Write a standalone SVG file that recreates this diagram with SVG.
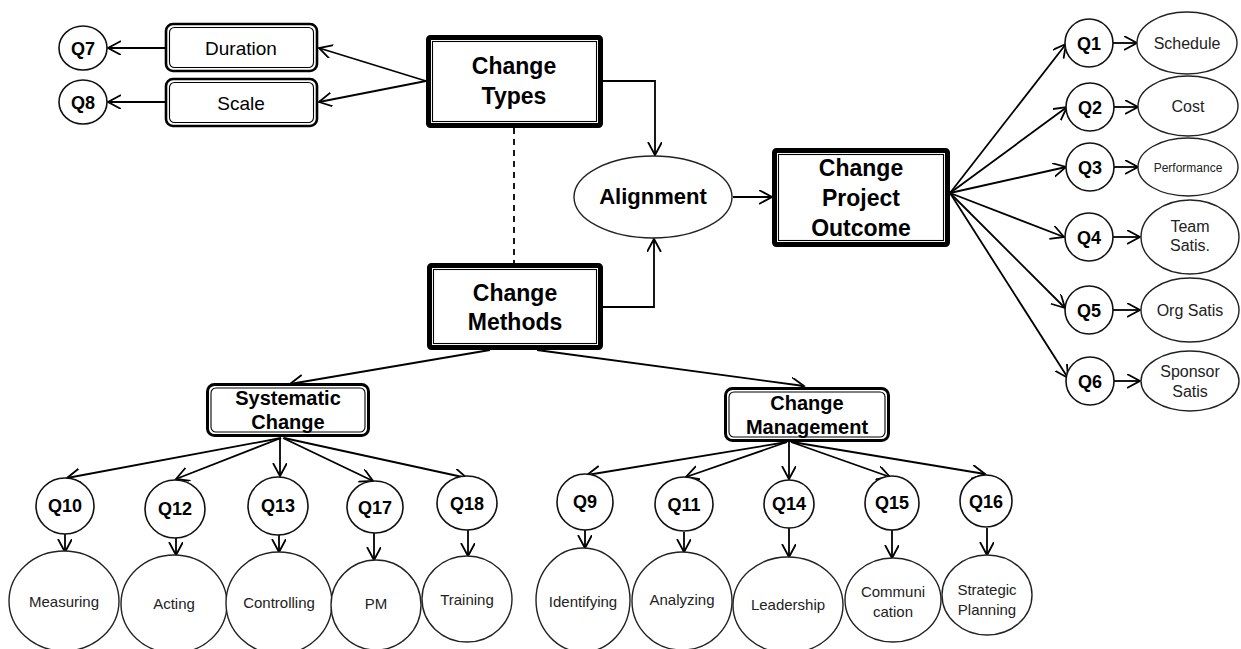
<svg xmlns="http://www.w3.org/2000/svg" width="1241" height="649" viewBox="0 0 1241 649">
<defs>
<marker id="arr" markerUnits="userSpaceOnUse" markerWidth="16" markerHeight="16" refX="13" refY="7" orient="auto">
<path d="M0,0 L13,7 L0,14" fill="none" stroke="#000" stroke-width="1.8"/>
</marker>
<style>
text{font-family:"Liberation Sans",Arial,sans-serif;fill:#000;text-anchor:middle}
.big{font-size:23px;font-weight:bold}
.mid{font-size:20px;font-weight:bold}
.q{font-size:18px;font-weight:bold}
.lbl{font-size:15px;fill:#222}
.rl{font-size:16px;fill:#222}
.ell{fill:#fff;stroke:#222;stroke-width:1.4}
.qc{fill:#fff;stroke:#111;stroke-width:1.6}
.o5{fill:#fff;stroke:#000;stroke-width:5}
.o3{fill:#fff;stroke:#000;stroke-width:3}
.in{fill:none;stroke:#000;stroke-width:1.1}
.ln{fill:none;stroke:#000;stroke-width:1.8}
</style>
</defs>

<g id="connectors">
<line class="ln" x1="426" y1="81" x2="319" y2="48" marker-end="url(#arr)"/>
<line class="ln" x1="426" y1="81" x2="319" y2="102" marker-end="url(#arr)"/>
<line class="ln" x1="165" y1="48" x2="108" y2="48" marker-end="url(#arr)"/>
<line class="ln" x1="165" y1="102" x2="108" y2="102" marker-end="url(#arr)"/>
<polyline class="ln" points="603,81 655,81 655,155" marker-end="url(#arr)"/>
<polyline class="ln" points="603,307 654,307 654,239" marker-end="url(#arr)"/>
<line x1="514" y1="128" x2="514" y2="263" stroke="#000" stroke-width="1.8" stroke-dasharray="6,5"/>
<line class="ln" x1="733" y1="197" x2="772" y2="197" marker-end="url(#arr)"/>
<line class="ln" x1="950" y1="193" x2="1066" y2="44" marker-end="url(#arr)"/>
<line class="ln" x1="950" y1="193" x2="1067" y2="107" marker-end="url(#arr)"/>
<line class="ln" x1="950" y1="193" x2="1066" y2="167" marker-end="url(#arr)"/>
<line class="ln" x1="950" y1="193" x2="1064" y2="237" marker-end="url(#arr)"/>
<line class="ln" x1="950" y1="193" x2="1065" y2="308" marker-end="url(#arr)"/>
<line class="ln" x1="950" y1="193" x2="1068" y2="378" marker-end="url(#arr)"/>
<line class="ln" x1="1113" y1="43" x2="1137" y2="43" marker-end="url(#arr)"/>
<line class="ln" x1="1114" y1="107" x2="1138" y2="107" marker-end="url(#arr)"/>
<line class="ln" x1="1114" y1="167" x2="1138" y2="167" marker-end="url(#arr)"/>
<line class="ln" x1="1113" y1="237" x2="1140" y2="237" marker-end="url(#arr)"/>
<line class="ln" x1="1113" y1="310" x2="1140" y2="310" marker-end="url(#arr)"/>
<line class="ln" x1="1114" y1="381" x2="1140" y2="381" marker-end="url(#arr)"/>
<line class="ln" x1="490" y1="350" x2="290" y2="384" marker-end="url(#arr)"/>
<line class="ln" x1="537" y1="350" x2="804" y2="386" marker-end="url(#arr)"/>
<line class="ln" x1="281" y1="438" x2="67" y2="478" marker-end="url(#arr)"/>
<line class="ln" x1="281" y1="438" x2="176" y2="479" marker-end="url(#arr)"/>
<line class="ln" x1="280" y1="438" x2="280" y2="476" marker-end="url(#arr)"/>
<line class="ln" x1="283" y1="438" x2="373" y2="481" marker-end="url(#arr)"/>
<line class="ln" x1="284" y1="438" x2="467" y2="478" marker-end="url(#arr)"/>
<line class="ln" x1="787" y1="442" x2="587" y2="475" marker-end="url(#arr)"/>
<line class="ln" x1="787" y1="442" x2="686" y2="477" marker-end="url(#arr)"/>
<line class="ln" x1="789" y1="442" x2="789" y2="479" marker-end="url(#arr)"/>
<line class="ln" x1="791" y1="442" x2="890" y2="477" marker-end="url(#arr)"/>
<line class="ln" x1="792" y1="442" x2="985" y2="474" marker-end="url(#arr)"/>
<line class="ln" x1="65" y1="534" x2="65" y2="552" marker-end="url(#arr)"/>
<line class="ln" x1="176" y1="538" x2="176" y2="555" marker-end="url(#arr)"/>
<line class="ln" x1="279" y1="535" x2="279" y2="552" marker-end="url(#arr)"/>
<line class="ln" x1="374" y1="533" x2="374" y2="560" marker-end="url(#arr)"/>
<line class="ln" x1="468" y1="530" x2="468" y2="556" marker-end="url(#arr)"/>
<line class="ln" x1="585" y1="530" x2="585" y2="548" marker-end="url(#arr)"/>
<line class="ln" x1="684" y1="532" x2="684" y2="552" marker-end="url(#arr)"/>
<line class="ln" x1="789" y1="528" x2="789" y2="557" marker-end="url(#arr)"/>
<line class="ln" x1="892" y1="530" x2="892" y2="558" marker-end="url(#arr)"/>
<line class="ln" x1="987" y1="528" x2="987" y2="555" marker-end="url(#arr)"/>
</g>

<g id="q7"><ellipse class="qc" cx="83" cy="48" rx="24" ry="22"/><text class="q" x="83" y="55">Q7</text></g>
<g id="q8"><ellipse class="qc" cx="83" cy="102" rx="24" ry="22"/><text class="q" x="83" y="109">Q8</text></g>

<g id="duration">
<rect x="166" y="24" width="151" height="47" rx="7" fill="#fff" stroke="#000" stroke-width="2.6"/>
<rect x="169.5" y="27.5" width="144" height="40" rx="5" class="in"/>
<text x="241" y="55" style="font-size:19px">Duration</text>
</g>
<g id="scale">
<rect x="166" y="79" width="151" height="47" rx="7" fill="#fff" stroke="#000" stroke-width="2.6"/>
<rect x="169.5" y="82.5" width="144" height="40" rx="5" class="in"/>
<text x="241" y="110" style="font-size:19px">Scale</text>
</g>

<g id="change-types">
<rect x="428.5" y="37.5" width="172" height="88" rx="2" class="o5"/>
<rect x="432.5" y="41.5" width="164" height="80" class="in"/>
<text class="big" x="514" y="74">Change</text>
<text class="big" x="514" y="104">Types</text>
</g>

<g id="alignment">
<ellipse class="ell" cx="653" cy="197" rx="79" ry="41"/>
<text x="653" y="204" style="font-size:22px;font-weight:bold">Alignment</text>
</g>

<g id="change-project-outcome">
<rect x="774.5" y="150.5" width="173" height="94" rx="2" class="o5"/>
<rect x="778.5" y="154.5" width="165" height="86" class="in"/>
<text class="big" x="861" y="176">Change</text>
<text class="big" x="861" y="206">Project</text>
<text class="big" x="861" y="236">Outcome</text>
</g>

<g id="change-methods">
<rect x="429.5" y="265.5" width="171" height="82" rx="2" class="o5"/>
<rect x="433.5" y="269.5" width="163" height="74" class="in"/>
<text class="big" x="515" y="301">Change</text>
<text class="big" x="515" y="330">Methods</text>
</g>

<g id="systematic-change">
<rect x="207.5" y="384.5" width="161" height="51" rx="7" class="o3"/>
<rect x="211" y="388" width="154" height="44" rx="5" class="in"/>
<text class="mid" x="288" y="405">Systematic</text>
<text class="mid" x="288" y="429">Change</text>
</g>

<g id="change-management">
<rect x="725.5" y="388.5" width="163" height="52" rx="7" class="o3"/>
<rect x="729" y="392" width="156" height="45" rx="5" class="in"/>
<text class="mid" x="807" y="410">Change</text>
<text class="mid" x="807" y="434">Management</text>
</g>

<g id="q1"><ellipse class="qc" cx="1089" cy="43" rx="24" ry="24"/><text class="q" x="1089" y="50">Q1</text></g>
<g id="q2"><ellipse class="qc" cx="1090" cy="107" rx="24" ry="24"/><text class="q" x="1090" y="114">Q2</text></g>
<g id="q3"><ellipse class="qc" cx="1090" cy="167" rx="24" ry="24"/><text class="q" x="1090" y="174">Q3</text></g>
<g id="q4"><ellipse class="qc" cx="1089" cy="237" rx="24" ry="24"/><text class="q" x="1089" y="244">Q4</text></g>
<g id="q5"><ellipse class="qc" cx="1089" cy="310" rx="24" ry="24"/><text class="q" x="1089" y="317">Q5</text></g>
<g id="q6"><ellipse class="qc" cx="1090" cy="381" rx="24" ry="24"/><text class="q" x="1090" y="388">Q6</text></g>

<g id="schedule"><ellipse class="ell" cx="1187" cy="43" rx="50" ry="31"/><text class="rl" x="1187" y="49">Schedule</text></g>
<g id="cost"><ellipse class="ell" cx="1188" cy="106" rx="50" ry="30"/><text class="rl" x="1188" y="112">Cost</text></g>
<g id="performance"><ellipse class="ell" cx="1188" cy="167" rx="50" ry="29"/><text x="1188" y="172" style="font-size:12px;fill:#222">Performance</text></g>
<g id="team-satis"><ellipse class="ell" cx="1190" cy="237" rx="49" ry="37"/><text class="rl" x="1190" y="232">Team</text><text class="rl" x="1190" y="251">Satis.</text></g>
<g id="org-satis"><ellipse class="ell" cx="1190" cy="310" rx="49" ry="32"/><text class="rl" x="1190" y="316">Org Satis</text></g>
<g id="sponsor-satis"><ellipse class="ell" cx="1190" cy="381" rx="49" ry="30"/><text class="rl" x="1190" y="377">Sponsor</text><text class="rl" x="1190" y="397">Satis</text></g>

<g id="q10"><ellipse class="qc" cx="65" cy="506" rx="29" ry="28"/><text class="q" x="65" y="512">Q10</text></g>
<g id="q12"><ellipse class="qc" cx="175" cy="509" rx="30" ry="29"/><text class="q" x="175" y="515">Q12</text></g>
<g id="q13"><ellipse class="qc" cx="278" cy="506" rx="30" ry="29"/><text class="q" x="278" y="512">Q13</text></g>
<g id="q17"><ellipse class="qc" cx="375" cy="507" rx="28" ry="26"/><text class="q" x="375" y="514">Q17</text></g>
<g id="q18"><ellipse class="qc" cx="467" cy="503" rx="30" ry="27"/><text class="q" x="467" y="510">Q18</text></g>
<g id="q9"><ellipse class="qc" cx="585" cy="502" rx="28" ry="28"/><text class="q" x="585" y="508">Q9</text></g>
<g id="q11"><ellipse class="qc" cx="684" cy="504" rx="29" ry="27"/><text class="q" x="684" y="511">Q11</text></g>
<g id="q14"><ellipse class="qc" cx="789" cy="504" rx="25" ry="24"/><text class="q" x="789" y="510">Q14</text></g>
<g id="q15"><ellipse class="qc" cx="892" cy="503" rx="27" ry="27"/><text class="q" x="892" y="509">Q15</text></g>
<g id="q16"><ellipse class="qc" cx="986" cy="501" rx="26" ry="26"/><text class="q" x="986" y="508">Q16</text></g>

<g id="measuring"><ellipse class="ell" cx="64" cy="601" rx="55" ry="50"/><text class="lbl" x="64" y="607">Measuring</text></g>
<g id="acting"><ellipse class="ell" cx="174" cy="604" rx="53" ry="49"/><text class="lbl" x="174" y="609">Acting</text></g>
<g id="controlling"><ellipse class="ell" cx="279" cy="603" rx="53" ry="51"/><text class="lbl" x="279" y="608">Controlling</text></g>
<g id="pm"><ellipse class="ell" cx="376" cy="605" rx="45" ry="45"/><text class="lbl" x="376" y="609">PM</text></g>
<g id="training"><ellipse class="ell" cx="467" cy="599" rx="45" ry="43"/><text class="lbl" x="467" y="605">Training</text></g>
<g id="identifying"><ellipse class="ell" cx="583" cy="600" rx="47" ry="52"/><text class="lbl" x="583" y="607">Identifying</text></g>
<g id="analyzing"><ellipse class="ell" cx="682" cy="601" rx="50" ry="49"/><text class="lbl" x="682" y="605">Analyzing</text></g>
<g id="leadership"><ellipse class="ell" cx="788" cy="605" rx="55" ry="48"/><text class="lbl" x="788" y="610">Leadership</text></g>
<g id="communication"><ellipse class="ell" cx="893" cy="600" rx="48" ry="42"/><text class="lbl" x="893" y="597">Communi</text><text class="lbl" x="893" y="617">cation</text></g>
<g id="strategic-planning"><ellipse class="ell" cx="987" cy="595" rx="45" ry="40"/><text class="lbl" x="987" y="595">Strategic</text><text class="lbl" x="987" y="615">Planning</text></g>
</svg>
